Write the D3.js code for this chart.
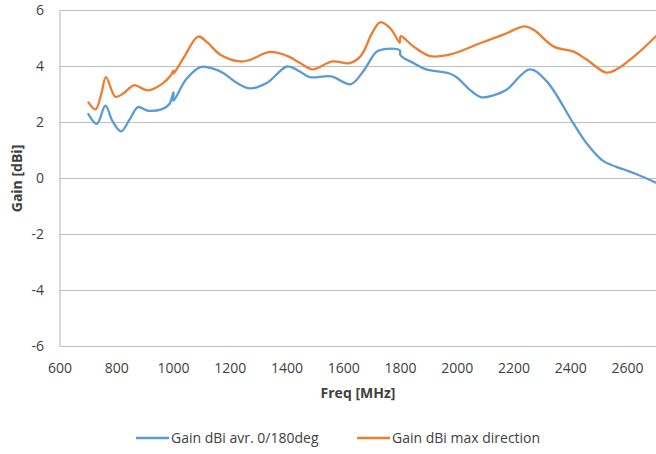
<!DOCTYPE html>
<html>
<head>
<meta charset="utf-8">
<script src="https://cdn.jsdelivr.net/npm/d3@7"></script>
<style>
  body { margin: 0; background: #fff; }
  svg text { font-family: "Open Sans", sans-serif; fill: #404040; }
</style>
</head>
<body>
<svg width="656" height="454"></svg>
<script>
// freq in MHz, gain in dBi
var avgFreq = [700, 730, 760, 785, 815, 845, 875, 910, 960, 985, 1000, 1000, 1045, 1095, 1130, 1175, 1225, 1270, 1330, 1400, 1440, 1480, 1555, 1625, 1670, 1715, 1750, 1797, 1800, 1850, 1890, 1970, 2000, 2040, 2085, 2130, 2175, 2255, 2315, 2410, 2460, 2515, 2585, 2630, 2700];
var avgGain = [2.30, 1.95, 2.60, 2.05, 1.68, 2.10, 2.55, 2.42, 2.48, 2.65, 3.08, 2.78, 3.55, 3.98, 3.95, 3.77, 3.40, 3.22, 3.42, 4.00, 3.85, 3.62, 3.65, 3.37, 3.85, 4.52, 4.63, 4.58, 4.40, 4.10, 3.90, 3.76, 3.60, 3.20, 2.90, 2.98, 3.18, 3.90, 3.47, 1.95, 1.20, 0.62, 0.33, 0.16, -0.15];

var maxFreq = [700, 725, 745, 762, 795, 825, 860, 910, 960, 990, 1000, 1000, 1035, 1087, 1120, 1165, 1235, 1270, 1340, 1400, 1450, 1490, 1560, 1620, 1660, 1700, 1728, 1765, 1797, 1800, 1845, 1905, 1975, 2080, 2160, 2238, 2270, 2340, 2410, 2455, 2525, 2560, 2630, 2700];
var maxGain = [2.72, 2.47, 3.00, 3.62, 2.92, 3.05, 3.33, 3.15, 3.38, 3.68, 3.85, 3.75, 4.30, 5.07, 4.85, 4.42, 4.18, 4.24, 4.52, 4.38, 4.10, 3.90, 4.18, 4.12, 4.38, 5.20, 5.58, 5.35, 4.85, 5.08, 4.72, 4.37, 4.43, 4.83, 5.13, 5.43, 5.30, 4.71, 4.53, 4.25, 3.78, 3.89, 4.42, 5.08];

var xTicks = [600, 800, 1000, 1200, 1400, 1600, 1800, 2000, 2200, 2400, 2600];
var yTicks = [-6, -4, -2, 0, 2, 4, 6];

var seriesNames = ["Gain dBi avr. 0/180deg", "Gain dBi max direction"];
var seriesColors = ["#5b9bd5", "#ed7d31"];

var svg = d3.select("svg");

var x = d3.scaleLinear().domain([600, 2700]).range([60, 656]);
var y = d3.scaleLinear().domain([-6, 6]).range([346.5, 10.5]);

// horizontal grid
svg.append("g").selectAll("line")
  .data(yTicks)
  .enter().append("line")
    .attr("x1", x(600)).attr("x2", x(2700))
    .attr("y1", function(d) { return y(d); })
    .attr("y2", function(d) { return y(d); })
    .attr("stroke", "#bfbfbf")
    .attr("stroke-width", 1.2);

// left axis line
svg.append("line")
  .attr("x1", x(600)).attr("x2", x(600))
  .attr("y1", y(6)).attr("y2", y(-6))
  .attr("stroke", "#bfbfbf")
  .attr("stroke-width", 1.2);

// tick labels
svg.append("g").selectAll("text")
  .data(yTicks)
  .enter().append("text")
    .attr("x", 44)
    .attr("y", function(d) { return y(d); })
    .attr("dy", "0.35em")
    .attr("text-anchor", "end")
    .style("font-size", "14px")
    .text(function(d) { return d; });

svg.append("g").selectAll("text")
  .data(xTicks)
  .enter().append("text")
    .attr("x", function(d) { return x(d); })
    .attr("y", 368)
    .attr("dy", "0.35em")
    .attr("text-anchor", "middle")
    .style("font-size", "14px")
    .text(function(d) { return d; });

// axis titles
svg.append("text")
  .attr("x", 358).attr("y", 393)
  .attr("dy", "0.35em")
  .attr("text-anchor", "middle")
  .style("font-size", "14px")
  .style("font-weight", "bold")
  .text("Freq [MHz]");

svg.append("text")
  .attr("transform", "translate(17.5," + y(0) + ") rotate(-90)")
  .attr("dy", "0.35em")
  .attr("text-anchor", "middle")
  .style("font-size", "14px")
  .style("font-weight", "bold")
  .text("Gain [dBi]");

// curves
var line = d3.line()
  .x(function(d) { return x(d[0]); })
  .y(function(d) { return y(d[1]); })
  .curve(d3.curveCatmullRom.alpha(0.5));

var series = [d3.zip(avgFreq, avgGain), d3.zip(maxFreq, maxGain)];

svg.append("g").selectAll("path")
  .data(series)
  .enter().append("path")
    .attr("d", line)
    .attr("fill", "none")
    .attr("stroke", function(d, i) { return seriesColors[i]; })
    .attr("stroke-width", 2.3)
    .attr("stroke-linejoin", "round")
    .attr("stroke-linecap", "round");

// legend
var legendX = [136, 357];
var lg = svg.append("g").selectAll("g")
  .data(seriesNames)
  .enter().append("g")
    .attr("transform", function(d, i) { return "translate(" + legendX[i] + ",438)"; });

lg.append("line")
  .attr("x1", 0).attr("x2", 33)
  .attr("stroke", function(d, i) { return seriesColors[i]; })
  .attr("stroke-width", 2.3);

lg.append("text")
  .attr("x", 35)
  .attr("dy", "0.35em")
  .style("font-size", "14px")
  .text(function(d) { return d; });
</script>
</body>
</html>
